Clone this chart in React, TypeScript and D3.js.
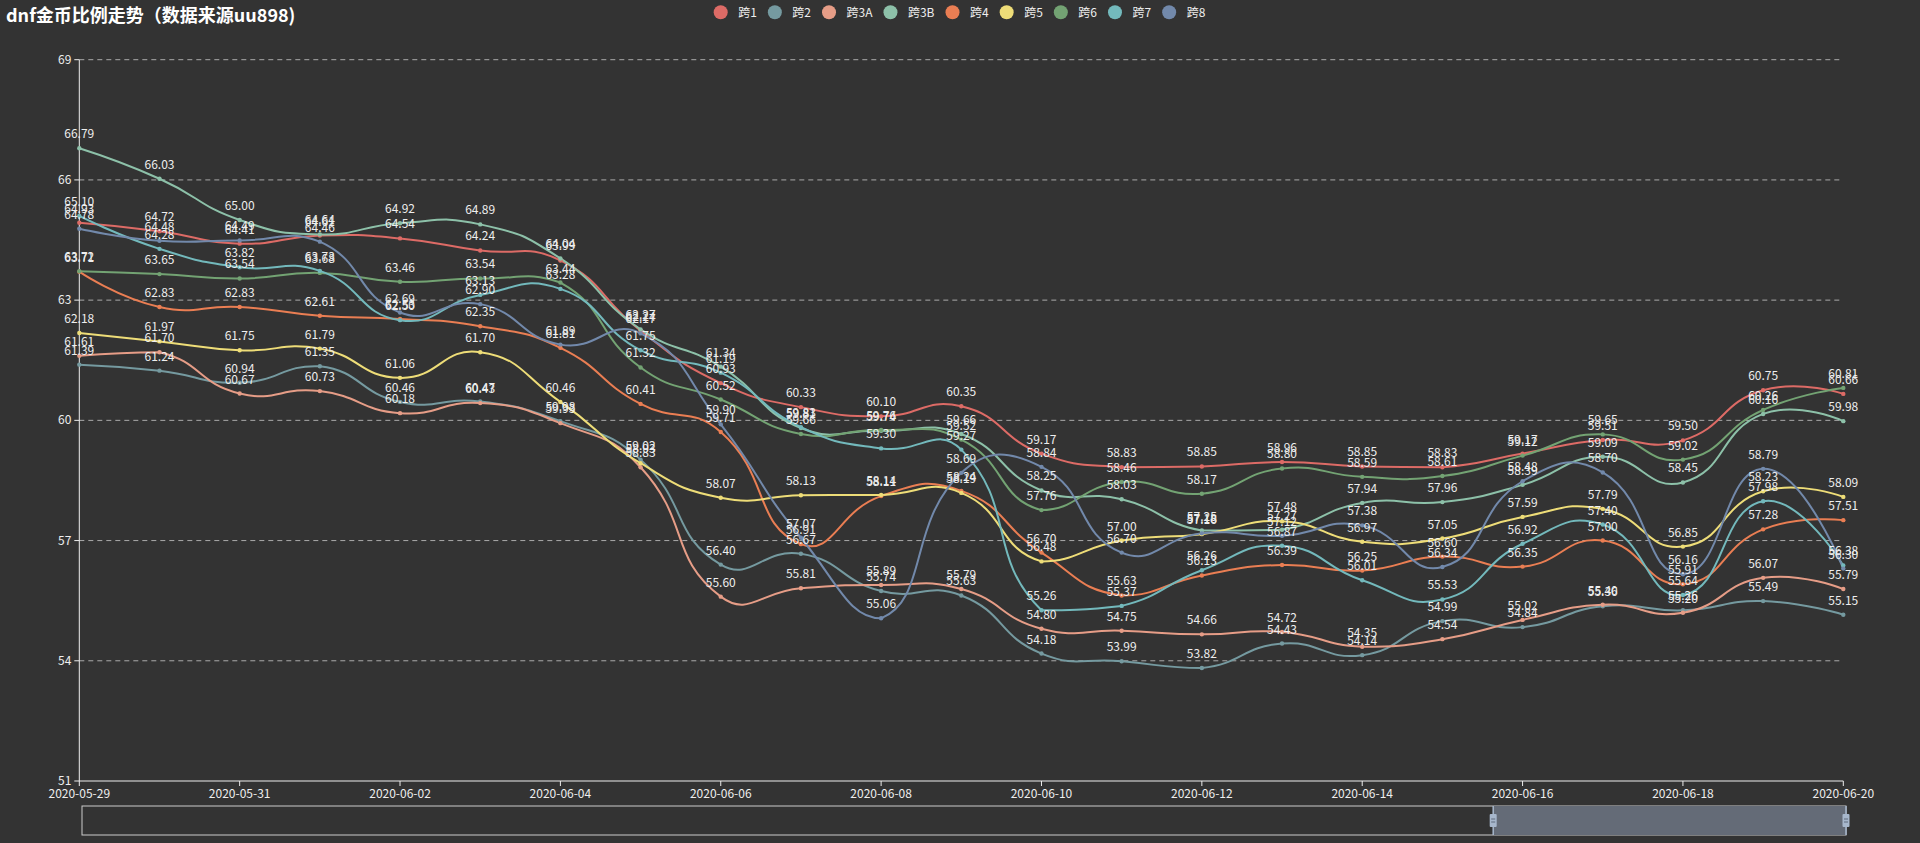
import React from 'react';
import * as d3 from 'd3';

const dates = [
  '2020-05-29', '2020-05-30', '2020-05-31', '2020-06-01', '2020-06-02', '2020-06-03',
  '2020-06-04', '2020-06-05', '2020-06-06', '2020-06-07', '2020-06-08', '2020-06-09',
  '2020-06-10', '2020-06-11', '2020-06-12', '2020-06-13', '2020-06-14', '2020-06-15',
  '2020-06-16', '2020-06-17', '2020-06-18', '2020-06-19', '2020-06-20',
];

const seriesNames = ['跨1', '跨2', '跨3A', '跨3B', '跨4', '跨5', '跨6', '跨7', '跨8'];
const seriesColors = ['#dd6b66', '#759aa0', '#e69d87', '#8dc1a9', '#ea7e53', '#eedd78', '#73a373', '#73b9bc', '#7289ab'];

const kua1 = [64.93, 64.72, 64.41, 64.61, 64.54, 64.24, 63.99, 62.24, 60.93, 60.33, 60.10, 60.35, 59.17, 58.83, 58.85, 58.96, 58.85, 58.83, 59.17, 59.51, 59.50, 60.75, 60.66];
const kua2 = [61.39, 61.24, 60.94, 61.35, 60.46, 60.47, 59.98, 59.02, 56.40, 56.67, 55.74, 55.63, 54.18, 53.99, 53.82, 54.43, 54.14, 54.99, 54.84, 55.36, 55.26, 55.49, 55.15];
const kua3A = [61.61, 61.70, 60.67, 60.73, 60.18, 60.43, 59.93, 58.83, 55.60, 55.81, 55.89, 55.79, 54.80, 54.75, 54.66, 54.72, 54.35, 54.54, 55.02, 55.40, 55.20, 56.07, 55.79];
const kua3B = [66.79, 66.03, 65.00, 64.64, 64.92, 64.89, 64.04, 62.27, 61.34, 59.81, 59.74, 59.66, 58.25, 58.03, 57.25, 57.27, 57.94, 57.96, 58.39, 59.09, 58.45, 60.16, 59.98];
const kua4 = [63.71, 62.83, 62.83, 62.61, 62.53, 62.35, 61.81, 60.41, 59.71, 56.91, 58.11, 58.24, 56.70, 55.63, 56.13, 56.39, 56.25, 56.60, 56.35, 57.00, 55.91, 57.28, 57.51];
const kua5 = [62.18, 61.97, 61.75, 61.79, 61.06, 61.70, 60.46, 58.93, 58.07, 58.13, 58.14, 58.19, 56.48, 57.00, 57.16, 57.48, 56.97, 57.05, 57.59, 57.79, 56.85, 58.23, 58.09];
const kua6 = [63.72, 63.65, 63.54, 63.68, 63.46, 63.54, 63.44, 61.32, 60.52, 59.66, 59.76, 59.52, 57.76, 58.46, 58.17, 58.80, 58.59, 58.61, 59.12, 59.65, 59.02, 60.26, 60.81];
const kua7 = [65.10, 64.28, 63.82, 63.73, 62.50, 63.13, 63.28, 61.75, 61.19, 59.83, 59.30, 59.27, 55.26, 55.37, 56.26, 56.87, 56.01, 55.53, 56.92, 57.40, 55.64, 57.98, 56.38];
const kua8 = [64.78, 64.48, 64.49, 64.46, 62.69, 62.90, 61.89, 62.17, 59.90, 57.07, 55.06, 58.69, 58.84, 56.70, 57.18, 57.12, 57.38, 56.34, 58.48, 58.70, 56.16, 58.79, 56.30];

const seriesValues = [kua1, kua2, kua3A, kua3B, kua4, kua5, kua6, kua7, kua8];

const yTicks = [51, 54, 57, 60, 63, 66, 69];
const xLabelDates = dates.filter((_, i) => i % 2 === 0);
const zoomWindow = [80, 100];

const titleText = 'dnf金币比例走势（数据来源uu898)';
const FONT = "'Noto Sans CJK SC', 'Noto Sans', 'DejaVu Sans', sans-serif";

// ECharts-4-like smooth curve (smooth = 0.5, global bbox constraint)
function ECSmooth(this: any, context: any) {
  this._context = context;
}
ECSmooth.prototype = {
  areaStart() {},
  areaEnd() {},
  lineStart() {
    this._pts = [];
  },
  point(x: number, y: number) {
    this._pts.push([+x, +y]);
  },
  lineEnd() {
    const p: number[][] = this._pts;
    const c = this._context;
    const s = 0.5;
    if (!p.length) return;
    let minX = Infinity, minY = Infinity, maxX = -Infinity, maxY = -Infinity;
    p.forEach(([x, y]) => {
      minX = Math.min(minX, x); maxX = Math.max(maxX, x);
      minY = Math.min(minY, y); maxY = Math.max(maxY, y);
    });
    const clamp = (q: number[]) => [
      Math.max(minX, Math.min(maxX, q[0])),
      Math.max(minY, Math.min(maxY, q[1])),
    ];
    c.moveTo(p[0][0], p[0][1]);
    let cp0 = [p[0][0], p[0][1]];
    for (let i = 1; i < p.length; i++) {
      const prev = p[i - 1];
      const cur = p[i];
      const next = p[i + 1];
      let cp1: number[];
      let ratio = 0.5;
      let v = [0, 0];
      if (!next) {
        cp1 = [cur[0], cur[1]];
      } else {
        v = [next[0] - prev[0], next[1] - prev[1]];
        const lp = Math.hypot(cur[0] - prev[0], cur[1] - prev[1]);
        const ln = Math.hypot(next[0] - cur[0], next[1] - cur[1]);
        ratio = ln / (ln + lp);
        cp1 = [cur[0] - v[0] * s * (1 - ratio), cur[1] - v[1] * s * (1 - ratio)];
      }
      const a = clamp(cp0);
      const b = clamp(cp1);
      c.bezierCurveTo(a[0], a[1], b[0], b[1], cur[0], cur[1]);
      cp0 = [cur[0] + v[0] * s * ratio, cur[1] + v[1] * s * ratio];
    }
  },
};
const curveECSmooth = (context: any) => new (ECSmooth as any)(context);

let measureCtx: CanvasRenderingContext2D | null = null;
function textWidth(t: string, font: string) {
  try {
    if (!measureCtx) measureCtx = document.createElement('canvas').getContext('2d');
    if (measureCtx) {
      measureCtx.font = font;
      return measureCtx.measureText(t).width;
    }
  } catch (e) {}
  return t.length * 8;
}

export default function App() {
  const W = 1920;
  const H = 843;
  const x = d3.scalePoint<string>().domain(dates).range([79.3, 1843.3]);
  const y = d3.scaleLinear().domain([51, 69]).range([781, 59.7]);
  const sliderX = d3.scaleLinear().domain([0, 100]).range([82, 1846]);

  const line = d3
    .line<number>()
    .x((_, i) => x(dates[i]) as number)
    .y((d) => y(d))
    .curve(curveECSmooth as any);

  // legend layout
  const legendFont = `12px ${FONT}`;
  const widths = seriesNames.map((n) => textWidth(n, legendFont));
  const circleToText = 17.5;
  const textToNext = 18;
  const r = 7;
  let total = r;
  widths.forEach((w, i) => {
    total += circleToText + w + (i < widths.length - 1 ? textToNext : 0);
  });
  const legendStart = 959.5 - total / 2 + r;
  const legendItems: { cx: number; tx: number }[] = [];
  let cx = legendStart;
  widths.forEach((w) => {
    legendItems.push({ cx, tx: cx + circleToText });
    cx = cx + circleToText + w + textToNext;
  });

  const y0 = y(51);
  const xl = x(dates[0]) as number;
  const xr = x(dates[dates.length - 1]) as number;

  return (
    <svg
      width={W}
      height={H}
      style={{ position: 'absolute', left: 0, top: 0, background: '#333333', fontFamily: FONT }}
    >
      <rect x={0} y={0} width={W} height={H} fill="#333333" />
      <text x={6} y={22} fill="#ffffff" fontSize={18} fontWeight="bold">
        {titleText}
      </text>

      {/* legend */}
      {seriesNames.map((n, i) => (
        <g key={n}>
          <circle cx={legendItems[i].cx} cy={12.3} r={r} fill={seriesColors[i]} />
          <text x={legendItems[i].tx} y={16.5} fill="#eeeeee" fontSize={12}>
            {n}
          </text>
        </g>
      ))}

      {/* grid lines */}
      {yTicks.map((t) => (
        <g key={t}>
          {t !== 51 && (
            <line x1={xl} x2={xr} y1={y(t)} y2={y(t)} stroke="#aaaaaa" strokeDasharray="5 4" strokeWidth={1} />
          )}
          <line x1={xl - 5} x2={xl} y1={y(t)} y2={y(t)} stroke="#eeeeee" strokeWidth={1} />
          <text x={xl - 8} y={y(t) + 4} fill="#eeeeee" fontSize={12} textAnchor="end">
            {t}
          </text>
        </g>
      ))}

      {/* axes */}
      <line x1={xl} x2={xl} y1={y(69)} y2={y0} stroke="#eeeeee" strokeWidth={1} />
      <line x1={xl} x2={xr} y1={y0} y2={y0} stroke="#eeeeee" strokeWidth={1} />
      {xLabelDates.map((d) => (
        <g key={d}>
          <line x1={x(d)} x2={x(d)} y1={y0} y2={y0 + 5} stroke="#eeeeee" strokeWidth={1} />
          <text x={x(d)} y={y0 + 17} fill="#eeeeee" fontSize={12} textAnchor="middle">
            {d}
          </text>
        </g>
      ))}

      {/* series lines */}
      {seriesValues.map((vals, i) => (
        <path key={seriesNames[i]} d={line(vals) || ''} fill="none" stroke={seriesColors[i]} strokeWidth={2} />
      ))}
      {/* symbols */}
      {seriesValues.map((vals, i) => (
        <g key={'s' + seriesNames[i]}>
          {vals.map((v, j) => (
            <circle key={j} cx={x(dates[j])} cy={y(v)} r={2.2} fill={seriesColors[i]} />
          ))}
        </g>
      ))}
      {/* labels */}
      {seriesValues.map((vals, i) => (
        <g key={'l' + seriesNames[i]}>
          {vals.map((v, j) => (
            <text key={j} x={x(dates[j])} y={y(v) - 10} fill="#eeeeee" fontSize={12} textAnchor="middle">
              {v.toFixed(2)}
            </text>
          ))}
        </g>
      ))}

      {/* data zoom slider */}
      <rect
        x={sliderX(0)}
        y={806}
        width={sliderX(100) - sliderX(0)}
        height={29}
        fill="none"
        stroke="#cccccc"
        strokeWidth={1}
      />
      <rect
        x={sliderX(zoomWindow[0])}
        y={806}
        width={sliderX(zoomWindow[1]) - sliderX(zoomWindow[0])}
        height={29}
        fill="#646b77"
      />
      {zoomWindow.map((z, k) => (
        <g key={k}>
          <line x1={sliderX(z)} x2={sliderX(z)} y1={806} y2={835} stroke="#a7b7cc" strokeWidth={1.5} />
          <rect x={sliderX(z) - 3.5} y={814} width={7} height={13} fill="#a7b7cc" rx={1} />
          <line x1={sliderX(z) - 2} x2={sliderX(z) + 2} y1={819} y2={819} stroke="#5f6b7c" strokeWidth={1} />
          <line x1={sliderX(z) - 2} x2={sliderX(z) + 2} y1={822} y2={822} stroke="#5f6b7c" strokeWidth={1} />
        </g>
      ))}
    </svg>
  );
}
